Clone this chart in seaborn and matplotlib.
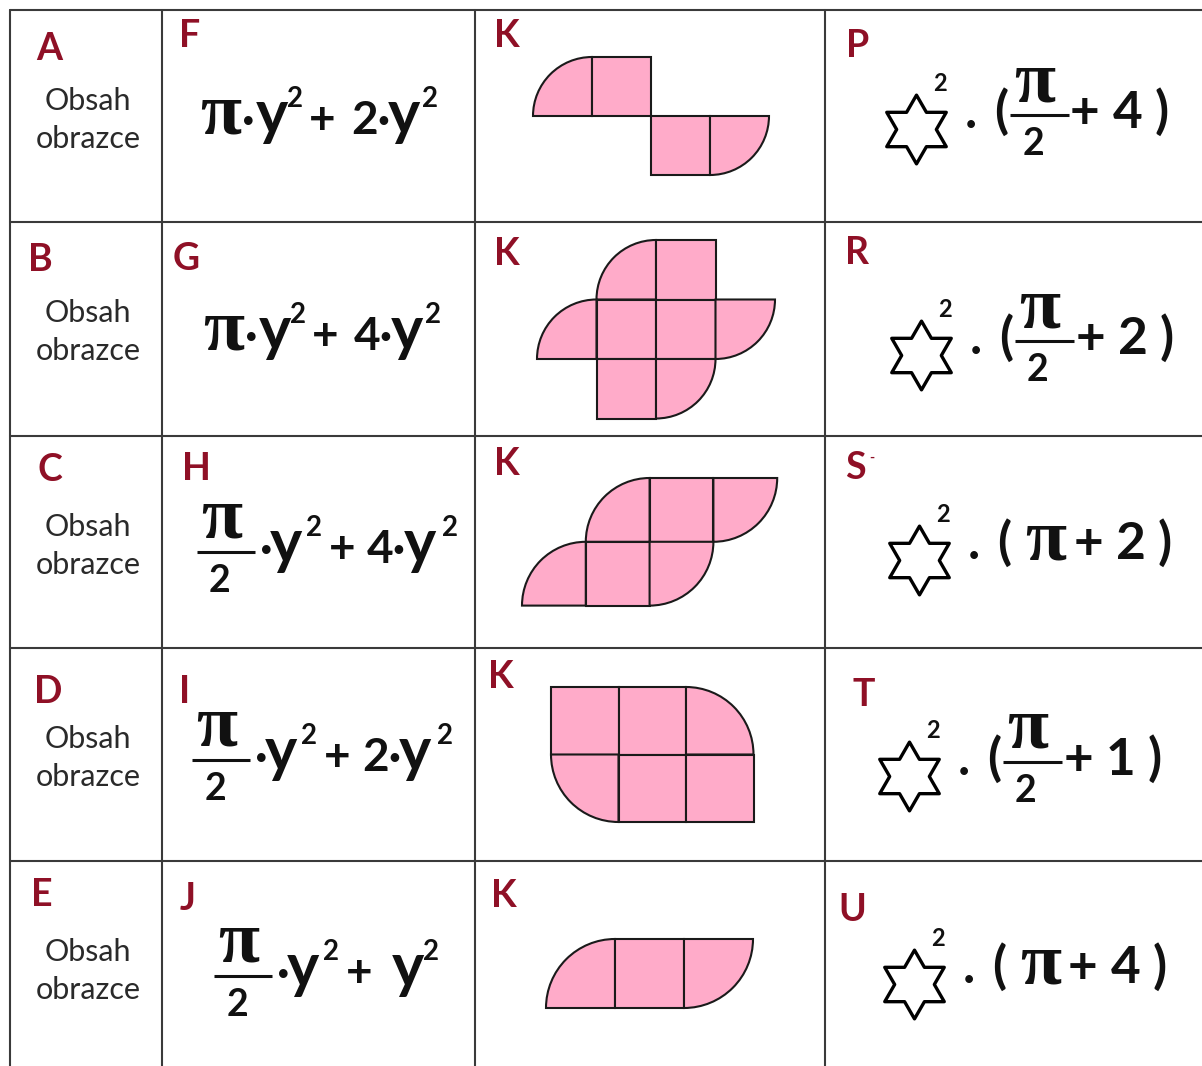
import matplotlib
matplotlib.use("Agg")
import matplotlib.pyplot as plt
import seaborn as sns
from matplotlib.patches import Rectangle, Wedge
from matplotlib.path import Path

# Table content
row_letters = ["A", "B", "C", "D", "E"]
formula_letters = ["F", "G", "H", "I", "J"]
shape_letters = ["K", "K", "K", "K", "K"]
answer_letters = ["P", "R", "S", "T", "U"]
row_caption = ["Obsah", "obrazce"]

# formula column: pi or pi/2, then coefficient of y^2
formula_lead = ["pi", "pi", "frac", "frac", "frac"]
formula_coef = ["2", "4", "4", "2", ""]
# answer column: star^2 * (lead + coef)
answer_lead = ["frac", "frac", "pi", "frac", "pi"]
answer_coef = ["4", "2", "2", "1", "4"]

# shapes: ("s", col, row) unit square, ("q", col, row, corner) quarter circle centred at corner
shape_a = [("q", 0, 0, "br"), ("s", 1, 0), ("s", 2, 1), ("q", 3, 1, "tl")]
shape_b = [("q", 1, 0, "br"), ("s", 2, 0), ("q", 0, 1, "br"), ("s", 1, 1), ("s", 2, 1),
           ("q", 3, 1, "tl"), ("s", 1, 2), ("q", 2, 2, "tl")]
shape_c = [("q", 1, 0, "br"), ("s", 2, 0), ("q", 3, 0, "tl"), ("q", 0, 1, "br"), ("s", 1, 1),
           ("q", 2, 1, "tl")]
shape_d = [("s", 0, 0), ("s", 1, 0), ("q", 2, 0, "bl"), ("q", 0, 1, "tr"), ("s", 1, 1), ("s", 2, 1)]
shape_e = [("q", 0, 0, "br"), ("s", 1, 0), ("q", 2, 0, "tl")]
shapes = [shape_a, shape_b, shape_c, shape_d, shape_e]

# Layout (pixels)
W, H = 1202, 1066
col_edges = [10, 162, 475, 825]
row_edges = [10, 222, 436, 648, 861]
shape_origin = [(533, 57), (537, 240), (522, 478), (551, 687), (546, 939)]
shape_unit = [59, 59.5, 63.8, 67.5, 69]
corner_angles = {"br": (1, 1, 180, 270), "tl": (0, 0, 0, 90), "bl": (0, 1, 270, 360), "tr": (1, 0, 90, 180)}

row_letter_pos = [(49, 60), (40, 271), (50, 481), (48, 703), (42, 906)]
formula_letter_pos = [(190, 47), (186, 270), (196, 480), (185, 703), (188, 910)]
shape_letter_pos = [(507, 47), (507, 265), (507, 475), (501, 688), (504, 907)]
answer_letter_pos = [(858, 57), (857, 264), (855, 479), (864, 706), (852, 921)]

formula_anchor = [221, 224, 226, 221, 243]
formula_base = [134, 350, 563, 771, 987]
star_x = [916, 921, 919, 909, 914]
answer_base = [128, 354, 559, 775, 983]

PINK = "#ffabc9"
RED = "#8f1026"
INK = "#111111"
SANS = ["Lato", "DejaVu Sans"]
SERIF = ["Liberation Serif", "DejaVu Serif"]

sns.set_theme(style="white")
fig = plt.figure(figsize=(W / 100, H / 100), dpi=100)
ax = fig.add_axes([0, 0, 1, 1])


def put(x, y, s, size, color=INK, family=SANS, weight="bold", ha="center", va="baseline"):
    ax.text(x, y, s, fontsize=size, color=color, family=family, fontweight=weight, ha=ha, va=va)


def fraction(cx, bar_y, size_pi, size_den, bar_half, bar_lw):
    put(cx - 4, bar_y - 14, "π", size_pi, family=SERIF)
    ax.plot([cx - bar_half, cx + bar_half], [bar_y, bar_y], color=INK, lw=bar_lw, solid_capstyle="butt")
    put(cx - 6, bar_y + 40, "2", size_den)


# grid lines of the table
for x in col_edges:
    ax.plot([x, x], [row_edges[0], H], color="#3a3a3a", lw=1.5)
for y in row_edges:
    ax.plot([col_edges[0], W], [y, y], color="#3a3a3a", lw=1.5)

# letters and captions
for i, r in enumerate(row_edges):
    put(*row_letter_pos[i], row_letters[i], 27, color=RED)
    put(88, r + 100, row_caption[0], 22, color="#2a2a2a", weight="normal")
    put(88, r + 138, row_caption[1], 22, color="#2a2a2a", weight="normal")
    put(*formula_letter_pos[i], formula_letters[i], 27, color=RED)
    put(*shape_letter_pos[i], shape_letters[i], 27, color=RED)
    put(*answer_letter_pos[i], answer_letters[i], 27, color=RED)
put(872, 462, "-", 10, color=RED)

# formula column
for i in range(5):
    a = formula_anchor[i]
    b = formula_base[i]
    if formula_lead[i] == "pi":
        put(a, b, "π", 54, family=SERIF)
        off = [27, 51, 74, 101, 142, 183, 209]
    else:
        fraction(a, b - 11, 54, 27, 29, 2.2)
        off = [40, 60, 88, 116, 153, 194, 224]
    put(a + off[0], b, "·", 33)
    put(a + off[1], b, "y", 44)
    put(a + off[2], b - 27, "2", 20)
    put(a + off[3], b, "+", 33)
    if formula_coef[i]:
        # coefficient and multiplication dot as one string
        put(a + off[4] - 12, b, formula_coef[i] + "·", 33, ha="left")
        put(a + off[5], b, "y", 44)
        put(a + off[6], b - 27, "2", 20)
    else:
        put(a + 165, b, "y", 44)
        put(a + 188, b - 27, "2", 20)

# shapes
for pieces, (ox, oy), u in zip(shapes, shape_origin, shape_unit):
    for p in pieces:
        x0 = ox + p[1] * u
        y0 = oy + p[2] * u
        if p[0] == "s":
            patch = Rectangle((x0, y0), u, u)
        else:
            dx, dy, t1, t2 = corner_angles[p[3]]
            patch = Wedge((x0 + dx * u, y0 + dy * u), u, t1, t2)
        patch.set_facecolor(PINK)
        patch.set_edgecolor("#1a1a1a")
        patch.set_linewidth(1.5)
        ax.add_patch(patch)

# answer column
star = Path.unit_regular_star(6, innerCircle=0.577)
sns.scatterplot(x=star_x, y=[b + 1 for b in answer_base], marker=star, s=2450,
                color="white", edgecolor="black", linewidth=2.4, ax=ax, zorder=3)
for i in range(5):
    a = star_x[i]
    b = answer_base[i]
    put(a + 24, b - 37, "2", 17)
    put(a + 55, b, ".", 37)
    put(a + 85, b, "(", 37)
    if answer_lead[i] == "frac":
        fraction(a + 123, b - 13, 54, 27, 29.5, 2.2)
    else:
        put(a + 127, b, "π", 54, family=SERIF)
    put(a + 169, b, "+", 37)
    put(a + 212, b, answer_coef[i], 37)
    put(a + 246, b, ")", 37)

ax.set_xlim(0, W)
ax.set_ylim(H, 0)
ax.axis("off")
fig.savefig("out.png", dpi=100, facecolor="white")
